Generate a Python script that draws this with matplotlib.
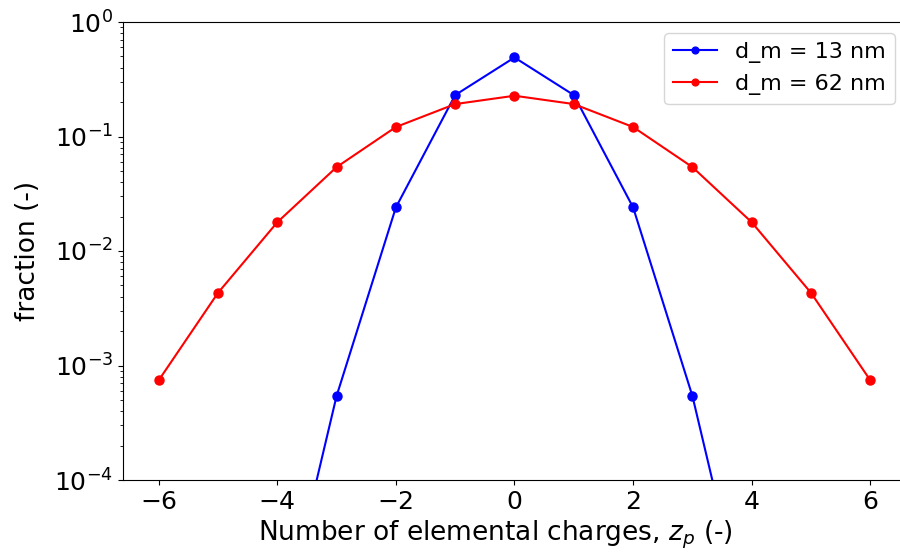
import matplotlib
matplotlib.use("Agg")
import matplotlib.pyplot as plt

# Carga elemental y fracciones
cargas_13 = [-4, -3, -2, -1, 0, 1, 2, 3, 4]
fraccion_13 = [3.5e-6, 5.4e-4, 0.024, 0.23, 0.49, 0.23, 0.024, 5.4e-4, 3.5e-6]

cargas_62 = [-6, -5, -4, -3, -2, -1, 0, 1, 2, 3, 4, 5, 6]
fraccion_62 = [7.4e-4, 4.3e-3, 0.0178, 0.054, 0.121, 0.192, 0.227,
               0.192, 0.121, 0.054, 0.0178, 4.3e-3, 7.4e-4]

fig = plt.figure(figsize=(9, 5.52), dpi=100)
ax = fig.add_axes([123 / 900, 1 - 480 / 552, (906 - 123) / 900, (480 - 22) / 552])

ax.plot(cargas_13, fraccion_13, "-o", color="blue", linewidth=1.5,
        markersize=6.5, label="d_m = 13 nm")
ax.plot(cargas_62, fraccion_62, "-o", color="red", linewidth=1.5,
        markersize=6.5, label="d_m = 62 nm")

ax.set_yscale("log")
ax.set_ylim(1e-4, 1)
ax.set_xlim(-6.6, 6.6)
ax.set_xticks([-6, -4, -2, 0, 2, 4, 6])
ax.tick_params(labelsize=18)
ax.set_xlabel("Number of elemental charges, $z_p$ (-)", fontsize=19, labelpad=5)
ax.xaxis.set_label_coords(0.476, -0.085)
ax.set_ylabel("fraction (-)", fontsize=19, labelpad=10)
ax.legend(loc="upper right", fontsize=16, markerscale=0.75)

fig.savefig("out.png", dpi=100)
